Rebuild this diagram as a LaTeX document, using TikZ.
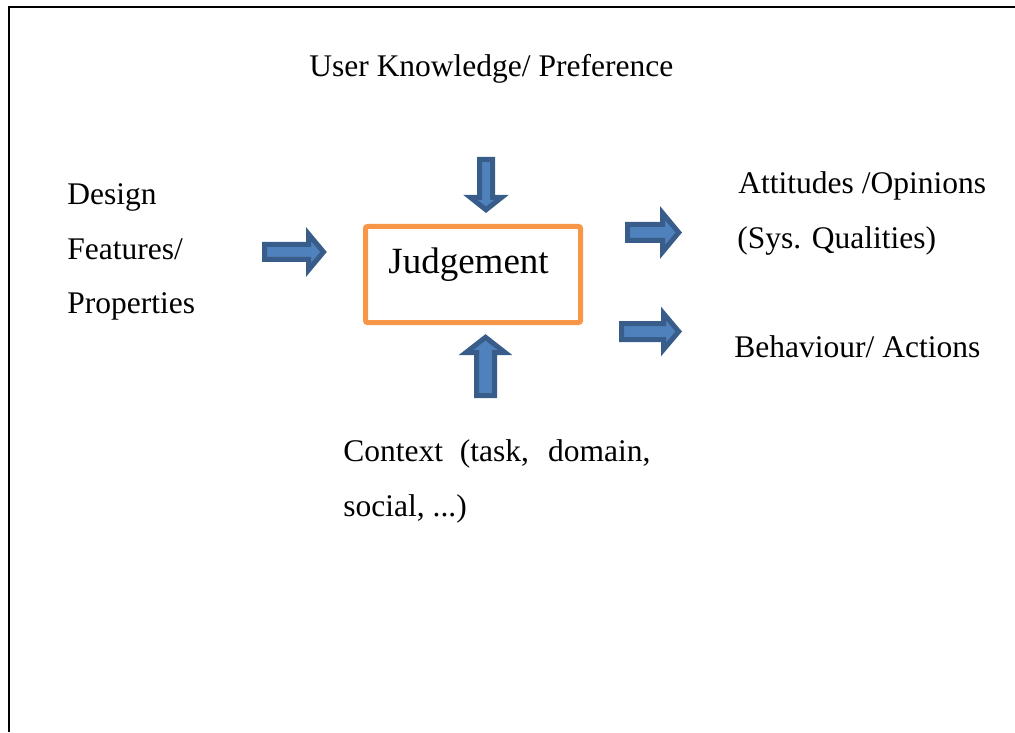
\documentclass[tikz,border=0pt]{standalone}
\usepackage{fontspec}
\setmainfont{Liberation Serif}
\usepackage{xcolor}
\definecolor{arrowfill}{HTML}{4F81BD}
\definecolor{arrowline}{HTML}{385D8A}
\definecolor{judgeorange}{HTML}{F79646}
\tikzset{txt/.style={anchor=base west,inner sep=0pt,font=\fontsize{15.75pt}{19pt}\selectfont},
 blockarrow/.style={draw=arrowline,fill=arrowfill,line width=2.5pt,line join=miter},
 judgebox/.style={draw=judgeorange,line width=2.5pt,rounded corners=1pt,
  minimum width=107.5pt,minimum height=48pt,inner sep=0pt},
 }

\begin{document}
\begin{tikzpicture}[x=0.5pt,y=-0.5pt]
        \useasboundingbox (0,0) rectangle (1015,732);
        % frame
        \draw[line width=1pt] (9,732) -- (9,7) -- (1015,7);
        % centre box
        \node[judgebox] (judge) at (473,274.5) {};
        \node[anchor=base west,inner sep=0pt,font=\fontsize{18.5pt}{22pt}\selectfont] (judgetext) at (388,273) {Judgement};
        % texts
        \node[txt] (userpref) at (309,77) {User Knowledge/ Preference};
        \node[txt] (design) at (67,205) {Design};
        \node[txt] (features) at (67,260) {Features/};
        \node[txt] (properties) at (67,314) {Properties};
        \node[txt] (attitudes) at (738,194) {Attitudes /Opinions};
        \node[txt] (qualities) at (737,249) {(Sys. Qualities)};
        \node[txt] (behaviour) at (734,357) {Behaviour/ Actions};
        \node[txt] (context) at (343,461) {\makebox[153.5pt][s]{Context (task, domain,}};
        \node[txt] (social) at (343,516) {social, ...)};
        % block arrows
        \draw[blockarrow] (264.5,244.5) -- (308.5,244.5) -- (308.5,234) -- (323.5,252)
            -- (308.5,270) -- (308.5,259.5) -- (264.5,259.5) -- cycle;
        \draw[blockarrow] (479.5,159.5) -- (479.5,197.5) -- (470.5,197.5) -- (486,209.8)
            -- (501.5,197.5) -- (492.5,197.5) -- (492.5,159.5) -- cycle;
        \draw[blockarrow] (476.5,395.5) -- (476.5,352.5) -- (466,352.5) -- (485.5,337.3)
            -- (505,352.5) -- (494.5,352.5) -- (494.5,395.5) -- cycle;
        \draw[blockarrow] (627.5,224.5) -- (662.5,224.5) -- (662.5,213) -- (678.7,232.5)
            -- (662.5,252) -- (662.5,240.5) -- (627.5,240.5) -- cycle;
        \draw[blockarrow] (621.5,323.5) -- (663.5,323.5) -- (663.5,313.5) -- (678.7,331.5)
            -- (663.5,349.5) -- (663.5,339.5) -- (621.5,339.5) -- cycle;
    \end{tikzpicture}
\end{document}
